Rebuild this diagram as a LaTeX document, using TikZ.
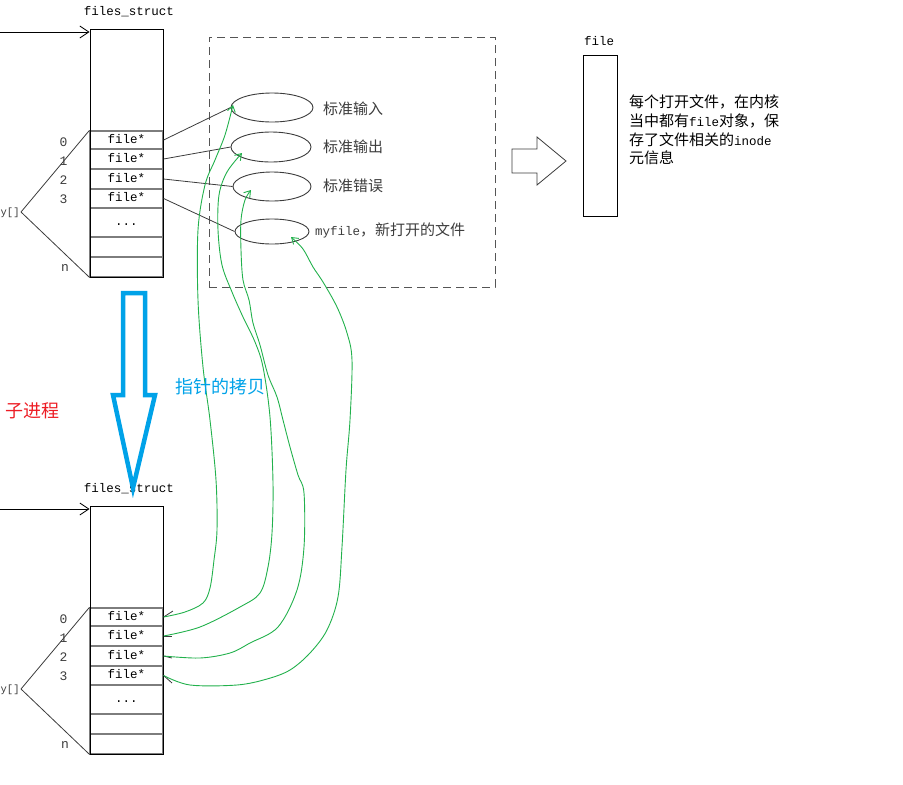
\documentclass[tikz,border=0pt]{standalone}
\usepackage{fontspec}
\setmainfont{Liberation Mono}
\newfontfamily\cjk{Noto Sans CJK SC}[Scale=1.2]
\usetikzlibrary{shapes.geometric,arrows.meta}
\definecolor{pblue}{RGB}{0,162,232}
\definecolor{pred}{RGB}{237,28,36}
\definecolor{pgreen}{RGB}{34,177,76}
\definecolor{rowgray}{RGB}{125,125,125}
\definecolor{dashgray}{RGB}{85,85,85}
\definecolor{lingray}{RGB}{60,60,60}
\tikzset{
  every node/.style={inner sep=0pt, font=\fontsize{12.5}{15}\selectfont},
  cell/.style={draw=rowgray, line width=1.2pt, minimum width=73, text height=9pt, text depth=2.5pt},
  outerbox/.style={draw=black, line width=0.9pt, minimum width=73, minimum height=248},
  idx/.style={font=\fontsize{13}{15}\selectfont, text=lingray},
  conn/.style={draw=lingray, line width=0.8pt},
  entry/.style={draw=black, line width=0.8pt, -{Straight Barb[length=9pt,width=12pt]}},
  ell/.style={ellipse, draw=lingray, line width=0.9pt},
  gcurve/.style={draw=pgreen, line width=0.9pt, -{Straight Barb[length=6pt,width=8pt]}},
  cjklabel/.style={anchor=west, font=\fontsize{12.5}{15}\selectfont\cjk, text=lingray},
  bigcjk/.style={anchor=west, font=\fontsize{15}{18}\selectfont\cjk},
}
\newcommand\fsblock[2]{%
  \node (#1title) at (129,12+#2) {files\_struct};
  \node[cell, minimum height=18] (#1c0) at (126.5,140+#2) {file*};
  \node[cell, minimum height=20] (#1c1) at (126.5,159+#2) {file*};
  \node[cell, minimum height=20] (#1c2) at (126.5,179+#2) {file*};
  \node[cell, minimum height=19] (#1c3) at (126.5,198.5+#2) {file*};
  \node[cell, minimum height=29] (#1c4) at (126.5,222.5+#2) {...};
  \node[cell, minimum height=20] (#1c5) at (126.5,247+#2) {};
  \node[cell, minimum height=20] (#1c6) at (126.5,267+#2) {};
  \node[outerbox] (#1box) at (126.5,153+#2) {};
  \node[idx] (#1i0) at (63.5,142+#2) {0};
  \node[idx] (#1i1) at (63.5,161+#2) {1};
  \node[idx] (#1i2) at (63.5,180+#2) {2};
  \node[idx] (#1i3) at (63.5,199+#2) {3};
  \node[idx] (#1in) at (65,268+#2) {n};
  \node[idx, anchor=west, font=\fontsize{10.5}{13}\selectfont] (#1lab) at (0.5,213+#2) {y[]};
  \coordinate (#1y) at (21,212+#2);
  \draw[conn] (#1y) -- (#1c0.north west);
  \draw[conn] (#1y) -- (#1box.south west);
  \coordinate (#1src) at (0,32+#2);
  \draw[entry] (#1src) -- (#1src -| #1box.west);
}
\begin{document}
\begin{tikzpicture}[x=1pt,y=-1pt]
\useasboundingbox (0,0) rectangle (903,785);

% top and bottom files_struct
\fsblock{t}{0}
\fsblock{b}{477}

% dashed group
\node[draw=dashgray, line width=1pt, dash pattern=on 8pt off 5pt, minimum width=286, minimum height=250] (grp) at (352,162) {};

% ellipses
\node[ell, minimum width=82, minimum height=29] (e1) at (272,107.5) {};
\node[ell, minimum width=80, minimum height=30] (e2) at (271,147) {};
\node[ell, minimum width=78, minimum height=29] (e3) at (272,186.5) {};
\node[ell, minimum width=74, minimum height=25] (e4) at (272,231.5) {};

\node[cjklabel] (l1) at (323,109) {标准输入};
\node[cjklabel] (l2) at (323,147) {标准输出};
\node[cjklabel] (l3) at (323,186) {标准错误};
\node[anchor=west, text=lingray] (l4) at (315,230) {myfile{\cjk ，新打开的文件}};

% connectors top
\draw[conn] (tc0.east) -- (e1.west);
\draw[conn] (tc1.east) -- (e2.west);
\draw[conn] (tc2.east) -- (e3.west);
\draw[conn] (tc3.east) -- (e4.west);

% bottom stubs
\coordinate (s0) at (173,611);
\coordinate (s1) at (172,636);
\coordinate (s2) at (172,658);
\coordinate (s3) at (172,683);
\draw[conn] (bc0.east) -- (s0);
\draw[conn] (bc1.east) -- (s1);
\draw[conn] (bc2.east) -- (s2);
\draw[conn] (bc3.east) -- (s3);

% arrow tips on ellipses
\coordinate (h1) at (233,105);
\coordinate (h2) at (242,153);
\coordinate (h3) at (251,190);
\coordinate (h4) at (291,237);

% green curves
\draw[gcurve] plot[smooth, tension=0.55] coordinates {(bc0.east) (185,612) (203,603) (210,588) (214,560) (217,530) (216,480) (210,420) (203,367) (198,300) (198,230) (205,185) (215,160) (225,135) (h1)};
\draw[gcurve] plot[smooth, tension=0.55] coordinates {(bc1.east) (200,627) (240,607) (260,593) (268,567) (272,533) (273,483) (270,417) (263,367) (255,342) (243,317) (232,292) (222,265) (218,230) (219,195) (227,172) (h2)};
\draw[gcurve] plot[smooth, tension=0.55] coordinates {(bc2.east) (200,658) (230,653) (250,643) (278,627) (297,590) (304,547) (304,493) (298,475) (290,447) (283,420) (277,397) (268,375) (260,345) (253,323) (249,300) (243,280) (241,250) (241,220) (245,200) (h3)};
\draw[gcurve] plot[smooth, tension=0.55] coordinates {(bc3.east) (190,685) (237,685) (267,679) (290,670) (310,653) (327,630) (338,597) (342,547) (346,470) (350,420) (352,360) (347,333) (337,307) (323,282) (313,267) (303,249) (h4)};

% right side: file object
\node (fbt) at (599,41) {file};
\node[draw=black, line width=0.9pt, minimum width=34, minimum height=161] (fb) at (600,135.5) {};
\draw[draw=lingray, line width=0.8pt] (512,149) -- (537,149) -- (537,137) -- (566,161) -- (537,185) -- (537,173) -- (512,173) -- cycle;
\node[cjklabel, text=black] (d1) at (629,102) {每个打开文件，在内核};
\node[anchor=west] (d2) at (629,121) {{\cjk 当中都有}file{\cjk 对象，保}};
\node[anchor=west] (d3) at (629,140) {{\cjk 存了文件相关的}inode};
\node[cjklabel, text=black] (d4) at (629,158) {元信息};

% blue arrow
\draw[draw=pblue, line width=4.5pt, line join=miter] (123,293) -- (145,293) -- (145,395) -- (155,395) -- (133,488) -- (113,395) -- (123,395) -- cycle;
\node[bigcjk, text=pblue] (copy) at (175,387) {指针的拷贝};
\node[bigcjk, text=pred] (child) at (5,411) {子进程};
\end{tikzpicture}
\end{document}
